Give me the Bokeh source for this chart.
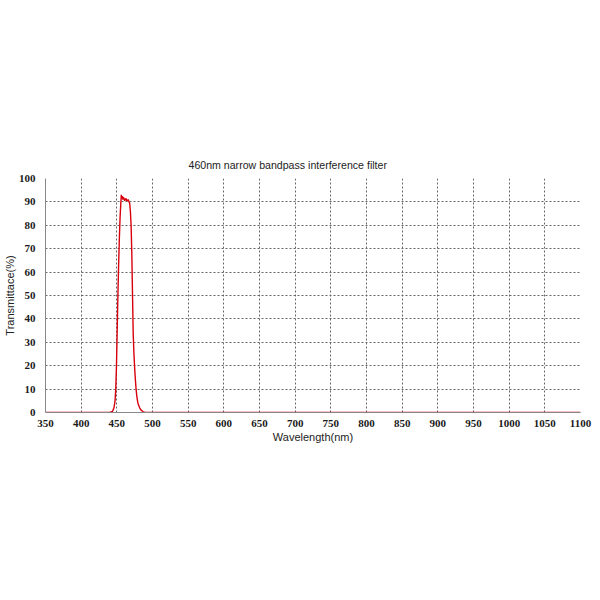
from bokeh.plotting import figure
from bokeh.models import Range1d, FixedTicker, Title
from bokeh.embed import file_html
from bokeh.resources import INLINE

title_text = "460nm narrow bandpass interference filter"
x_label = "Wavelength(nm)"
y_label = "Transmittace(%)"
x_ticks = list(range(350, 1101, 50))
y_ticks = list(range(0, 101, 10))

wavelength = [350, 400, 430, 440, 444, 446, 447.5, 448.5, 449.5, 450.5, 451.5, 452.5,
              453.5, 454.5, 455.5, 456.3, 457, 457.8, 458.5, 459.2, 460, 461, 462,
              463, 464, 465, 466, 467, 468, 469, 470, 471, 472, 473, 474, 475, 476,
              477, 478, 479, 480, 482, 484, 487, 490, 500, 600, 800, 1000, 1100]
transmittance = [0, 0, 0, 0, 0.5, 2, 5, 10, 20, 35, 50, 63,
                 74, 83, 89, 93, 91.5, 92.5, 91, 92, 91.5, 90.5, 91,
                 91.5, 90.5, 90.5, 91, 90, 89.5, 86, 80, 68, 50, 33, 25, 19, 14,
                 10, 7, 5, 3.5, 2, 1, 0.3, 0, 0, 0, 0, 0, 0]

p = figure(frame_width=535, frame_height=234, output_backend="svg", toolbar_location=None,
           x_range=Range1d(350, 1100), y_range=Range1d(0, 100),
           min_border_left=0, min_border_right=14, min_border_top=178, min_border_bottom=40,
           background_fill_color="white", border_fill_color="white")
p.outline_line_color = None

p.title.text = title_text
p.title.align = "left"
p.title.offset = 143
p.title.text_font = "Liberation Sans"
p.title.text_font_size = "10.6px"
p.title.text_font_style = "normal"
p.title.text_color = "#222222"

spacer = Title(text=" ", text_font_size="1px", standoff=0)
p.add_layout(spacer, "above")

p.line(wavelength, transmittance, line_color="#d8000c", line_width=1.4)

for ax in (p.xaxis, p.yaxis):
    ax.major_tick_line_color = None
    ax.minor_tick_line_color = None
    ax.major_label_text_font = "Liberation Serif"
    ax.major_label_text_font_style = "bold"
    ax.major_label_text_font_size = "11px"
    ax.major_label_text_color = "#1a1a1a"
    ax.axis_label_text_font = "Liberation Sans"
    ax.axis_label_text_font_style = "normal"
    ax.axis_label_text_font_size = "11px"
    ax.axis_label_text_color = "#222222"
    ax.axis_line_color = "#888888"

p.xaxis.ticker = FixedTicker(ticks=x_ticks)
p.yaxis.ticker = FixedTicker(ticks=y_ticks)
p.xaxis.axis_label = x_label
p.yaxis.axis_label = y_label
p.xaxis.major_label_standoff = 1
p.yaxis.major_label_standoff = 4
p.xaxis.axis_label_standoff = 1
p.yaxis.axis_label_standoff = 0

p.grid.grid_line_color = "#666666"
p.grid.grid_line_dash = "2 2"
p.grid.grid_line_width = 1
p.xgrid.ticker = FixedTicker(ticks=x_ticks)
p.ygrid.ticker = FixedTicker(ticks=y_ticks)

open("out.html", "w").write(file_html(p, INLINE))
